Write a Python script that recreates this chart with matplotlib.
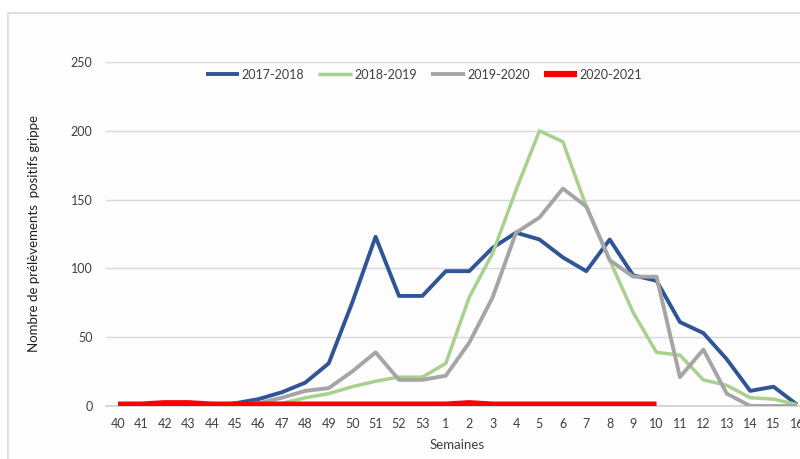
import matplotlib
matplotlib.use("Agg")
import matplotlib.pyplot as plt
from matplotlib.patches import Rectangle

plt.rcParams['font.family'] = ['Lato', 'DejaVu Sans']

# semaines (saison 40 -> 16)
semaines = [str(w) for w in range(40, 54)] + [str(w) for w in range(1, 17)]

s2017_2018 = [0, 0, 0, 0, 0, 2, 5, 10, 17, 31, 75, 123, 80, 80, 98, 98, 115, 126, 121, 108,
              98, 121, 95, 91, 61, 53, 34, 11, 14, 1]
s2018_2019 = [0, 0, 0, 0, 0, 0, 0, 2, 6, 9, 14, 18, 21, 21, 31, 79, 111, 157, 200, 192,
              145, 106, 68, 39, 37, 19, 15, 6, 5, 1]
s2019_2020 = [0, 0, 0, 0, 0, 1, 2, 6, 11, 13, 25, 39, 19, 19, 22, 46, 79, 126, 137, 158,
              145, 106, 94, 94, 21, 41, 9, 0, 0, 0]
s2020_2021 = [1, 1, 2, 2, 1, 1, 1, 1, 1, 1, 1, 1, 1, 1, 1, 2, 1, 1, 1, 1,
              1, 1, 1, 1]

series = [
    ("2017-2018", s2017_2018, "#2f5597", 2.8),
    ("2018-2019", s2018_2019, "#a9d18e", 2.5),
    ("2019-2020", s2019_2020, "#a5a5a5", 2.8),
    ("2020-2021", s2020_2021, "#ff0000", 4.5),
]

fig = plt.figure(figsize=(8, 4.59), dpi=100)
fig.patch.set_facecolor("white")

# cadre du graphique (coupé à droite et en bas)
fig.patches.append(Rectangle((8 / 800, -0.1), 1.0, 1 - 13 / 459 + 0.1,
                             transform=fig.transFigure, facecolor="#fdfdfd",
                             edgecolor="#d9d9d9", lw=1.2, zorder=-5))

ax = fig.add_axes([0.1329, 53 / 459, 0.878, 344 / 459])
ax.set_facecolor("none")
ax.set_zorder(2)

x = list(range(len(semaines)))
for name, vals, col, lw in series:
    ax.plot(x[:len(vals)], vals, color=col, lw=lw, label=name,
            solid_joinstyle="round", solid_capstyle="butt", zorder=3)

ax.set_xlim(-0.5, len(semaines) - 0.5)
ax.set_ylim(0, 250)
ax.set_yticks(range(0, 251, 50))
ax.set_xticks(x)
ax.set_xticklabels(semaines)
ax.grid(axis="y", color="#d9d9d9", lw=1)
ax.set_axisbelow(True)
for s in ["top", "right", "left"]:
    ax.spines[s].set_visible(False)
ax.spines["bottom"].set_color("#d0d0d0")
ax.spines["bottom"].set_linewidth(1.2)
ax.tick_params(length=0, labelsize=9, colors="#404040")
ax.tick_params(axis="x", pad=9)
ax.tick_params(axis="y", pad=10)

ax.set_xlabel("Semaines", fontsize=9.5, color="#404040", labelpad=6)
ax.set_ylabel("Nombre de prélèvements  positifs grippe", fontsize=9.5,
              color="#202020", labelpad=22)

leg = fig.legend(loc="center", bbox_to_anchor=(0.53, 0.837), ncol=4, frameon=False,
                 fontsize=9, handlelength=2.7, handletextpad=0.2, columnspacing=1.1)
for t in leg.get_texts():
    t.set_color("#404040")

fig.savefig("out.png", dpi=100)
